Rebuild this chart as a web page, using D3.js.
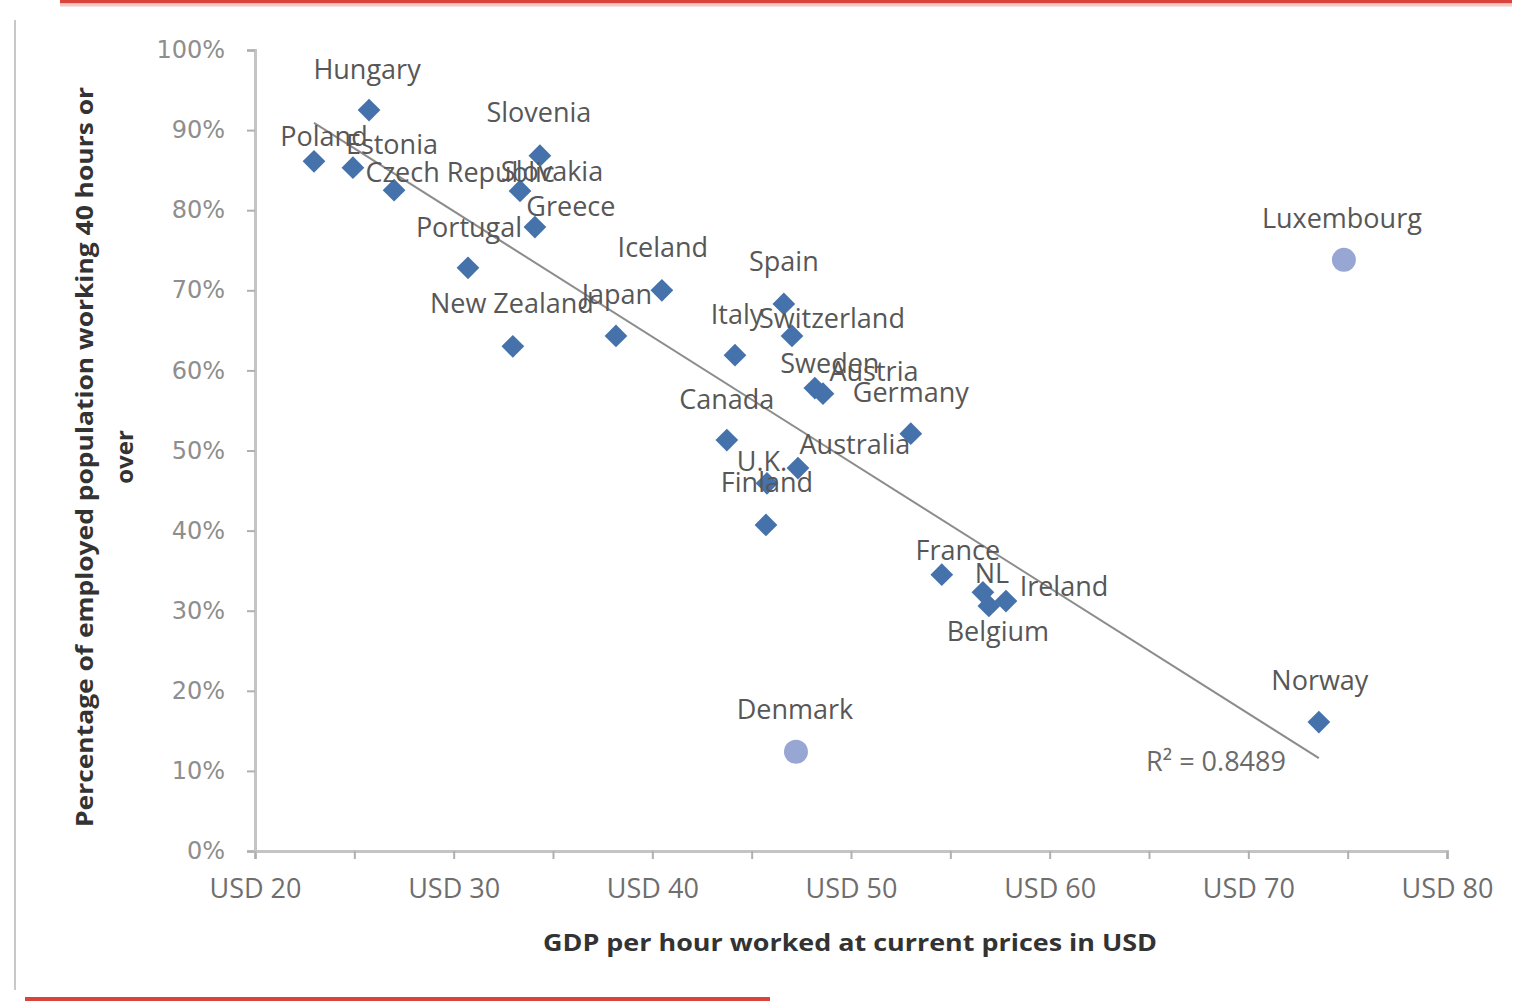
<!DOCTYPE html>
<html>
<head>
<meta charset="utf-8">
<script src="https://cdn.jsdelivr.net/npm/d3@7"></script>
<style>
  html, body { margin: 0; padding: 0; background: #ffffff; }
  svg { display: block; }
</style>
</head>
<body>
<svg id="chart" width="1536" height="1003"></svg>
<script>
// ---------- data ----------
const countries = ["Hungary","Poland","Estonia","Czech Republic","Slovenia","Slovakia","Greece","Portugal",
  "New Zealand","Japan","Iceland","Spain","Switzerland","Italy","Sweden","Austria","Germany","Canada",
  "Australia","U.K.","Finland","France","NL","Ireland","Belgium","Norway"];
const gdpPerHour = [25.74,22.97,24.93,27.00,34.34,33.34,34.09,30.72,
  32.98,38.17,40.48,46.62,47.03,44.16,48.18,48.59,53.01,43.75,
  47.33,45.77,45.72,54.57,56.64,57.80,56.94,73.55];
const share40h = [0.925,0.861,0.853,0.825,0.868,0.824,0.779,0.728,
  0.630,0.643,0.700,0.683,0.643,0.619,0.578,0.571,0.521,0.513,
  0.478,0.459,0.407,0.345,0.323,0.312,0.306,0.161];

const outlierCountries = ["Luxembourg","Denmark"];
const outlierGdp = [74.81, 47.23];
const outlierShare = [0.738, 0.124];

const trendX = [22.97, 73.55];
const trendY = [0.909, 0.116];
const r2Label = "R\u00B2 = 0.8489";

const xTickValues = [20,30,40,50,60,70,80];
const xMinorTicks = [20,25,30,35,40,45,50,55,60,65,70,75,80];
const yTickValues = [0,0.1,0.2,0.3,0.4,0.5,0.6,0.7,0.8,0.9,1.0];
const xTitle = "GDP per hour worked at current prices in USD";
const yTitleLines = ["Percentage of employed population working 40 hours or","over"];

// ---------- layout (label offsets in px, not data) ----------
const labelOffset = {
  "Hungary":[-2,-42],"Poland":[10,-26],"Estonia":[39,-24],"Czech Republic":[66,-19],"Slovenia":[-1,-44],
  "Slovakia":[32,-20],"Greece":[36,-22],"Portugal":[1,-41],"New Zealand":[-1,-44],"Japan":[1,-42],
  "Iceland":[1,-44],"Spain":[0,-43],"Switzerland":[40,-18],"Italy":[2,-42],"Sweden":[15,-26],
  "Austria":[51,-23],"Germany":[0,-42],"Canada":[0,-42],"Australia":[57,-25],"U.K.":[-5,-23],
  "Finland":[1,-43],"France":[16,-25],"NL":[9,-20],"Ireland":[58,-16],"Belgium":[9,25],
  "Norway":[1,-43],"Luxembourg":[-2,-42],"Denmark":[-1,-43]
};

const W = 1536, H = 1003;
const m = {left:255, right:89, top:50, bottom:152};
const svg = d3.select("#chart");

// frame decorations
svg.append("line").attr("x1",60).attr("x2",1512).attr("y1",1.5).attr("y2",1.5)
  .attr("stroke","#d8453d").attr("stroke-width",4);
svg.append("line").attr("x1",60).attr("x2",1512).attr("y1",5).attr("y2",5)
  .attr("stroke","#f0c8c4").attr("stroke-width",3);
svg.append("line").attr("x1",25).attr("x2",770).attr("y1",999).attr("y2",999)
  .attr("stroke","#d8453d").attr("stroke-width",4);
svg.append("line").attr("x1",15).attr("x2",15).attr("y1",20).attr("y2",990)
  .attr("stroke","#c8c8c8").attr("stroke-width",2);

const x = d3.scaleLinear().domain([20,80]).range([m.left, W - m.right]);
const y = d3.scaleLinear().domain([0,1]).range([H - m.bottom, m.top]);

const font = "'Open Sans', sans-serif";

// y axis
const yAxis = d3.axisLeft(y).tickValues(yTickValues).tickFormat(d3.format(".0%")).tickSize(8).tickPadding(22);
const gy = svg.append("g").attr("transform",`translate(${m.left},0)`).call(yAxis);
gy.select(".domain").attr("stroke","#c4c4c4").attr("stroke-width",3);
gy.selectAll(".tick line").attr("stroke","#b0b0b0").attr("stroke-width",2);
gy.selectAll(".tick text").attr("fill","#8e8e8e").style("font-family","'DejaVu Sans', sans-serif").style("font-size","24px");

// x axis
const xAxisMinor = d3.axisBottom(x).tickValues(xMinorTicks).tickFormat("").tickSize(8);
const gxm = svg.append("g").attr("transform",`translate(0,${H-m.bottom})`).call(xAxisMinor);
gxm.select(".domain").attr("stroke","#c4c4c4").attr("stroke-width",3);
gxm.selectAll(".tick line").attr("stroke","#b0b0b0").attr("stroke-width",2);
const xAxis = d3.axisBottom(x).tickValues(xTickValues).tickFormat(d => "USD " + d).tickSize(0).tickPadding(28);
const gx = svg.append("g").attr("transform",`translate(0,${H-m.bottom})`).call(xAxis);
gx.select(".domain").remove();
gx.selectAll(".tick text").attr("fill","#6e6e6e").style("font-family",font).style("font-size","27px");

// axis titles
svg.append("text").attr("x", 850).attr("y", 951).attr("text-anchor","middle")
  .attr("fill","#333").style("font-family",font).style("font-weight","bold").style("font-size","24px")
  .attr("textLength",614).attr("lengthAdjust","spacingAndGlyphs").text(xTitle);
const yt = svg.append("text").attr("transform","translate(85,457) rotate(-90)")
  .attr("text-anchor","middle").attr("fill","#333").style("font-family",font)
  .style("font-weight","bold").style("font-size","24px");
yt.append("tspan").attr("x",0).attr("y",8).attr("textLength",740).attr("lengthAdjust","spacingAndGlyphs").text(yTitleLines[0]);
yt.append("tspan").attr("x",0).attr("y",48).text(yTitleLines[1]);

// trend line
svg.append("line")
  .attr("x1", x(trendX[0])).attr("y1", y(trendY[0]))
  .attr("x2", x(trendX[1])).attr("y2", y(trendY[1]))
  .attr("stroke","#8c8c8c").attr("stroke-width",2);

// points
const pts = countries.map((c,i) => ({c, gx: gdpPerHour[i], s: share40h[i]}));
const outs = outlierCountries.map((c,i) => ({c, gx: outlierGdp[i], s: outlierShare[i]}));

svg.append("g").selectAll("path").data(pts).join("path")
  .attr("d", d3.symbol().type(d3.symbolDiamond2).size(330))
  .attr("transform", d => `translate(${x(d.gx)},${y(d.s)})`)
  .attr("fill","#4572aa");

svg.append("g").selectAll("circle").data(outs).join("circle")
  .attr("cx", d => x(d.gx)).attr("cy", d => y(d.s)).attr("r", 12)
  .attr("fill","#97a6d3");

// labels
svg.append("g").selectAll("text").data(pts.concat(outs)).join("text")
  .attr("x", d => x(d.gx) + labelOffset[d.c][0])
  .attr("y", d => y(d.s) + labelOffset[d.c][1])
  .attr("text-anchor","middle").attr("dominant-baseline","central")
  .attr("fill","#575757").style("font-family",font).style("font-size","27px")
  .text(d => d.c);

// R² label
svg.append("text").attr("x", 1216).attr("y", y(trendY[1]) + 2)
  .attr("text-anchor","middle").attr("dominant-baseline","central")
  .attr("fill","#6a6a6a").style("font-family",font).style("font-size","27px")
  .text(r2Label);
</script>
</body>
</html>
